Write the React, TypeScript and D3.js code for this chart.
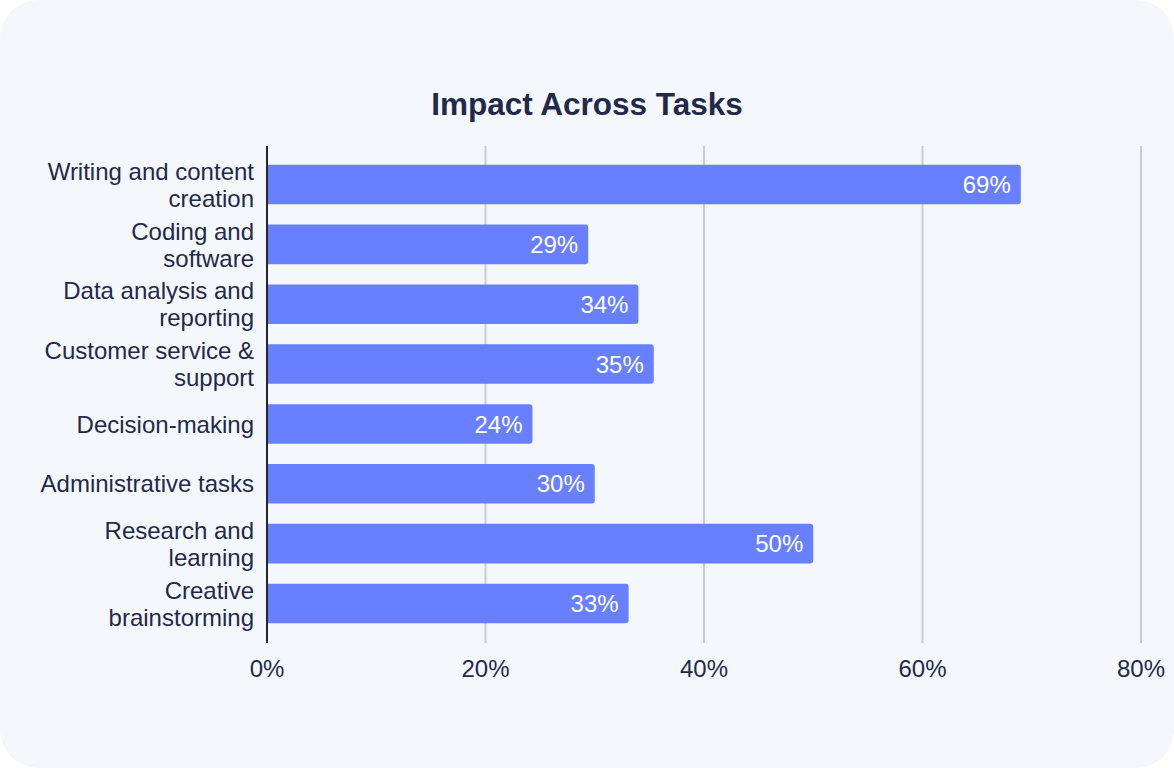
import React from 'react';
import { scaleBand, scaleLinear } from 'd3';

const W = 1174;
const H = 768;

const categories = [
  ['Writing and content', 'creation'],
  ['Coding and', 'software'],
  ['Data analysis and', 'reporting'],
  ['Customer service &', 'support'],
  ['Decision-making'],
  ['Administrative tasks'],
  ['Research and', 'learning'],
  ['Creative', 'brainstorming'],
];
const values = [69, 29.4, 34, 35.4, 24.3, 30, 50, 33.1];
const ticks = [0, 20, 40, 60, 80];

const font = '"Liberation Sans", Arial, sans-serif';
const textColor = '#1f2a4c';
const barColor = '#6880ff';

const App = () => {
  const x = scaleLinear().domain([0, 80]).range([267, 1141]);
  const y = scaleBand<number>()
    .domain(values.map((_, i) => i))
    .range([154.6, 633.4])
    .paddingInner(0.34)
    .paddingOuter(0.17);
  const gridTop = 146;
  const gridBottom = 643;

  return (
    <svg width={W} height={H} style={{ position: 'absolute', left: 0, top: 0, fontFamily: font }}>
      <rect x={0} y={0} width={W} height={H} fill="#ffffff" />
      <rect x={0} y={0} width={W} height={H} rx={38} ry={38} fill="#f4f7fb" />
      <text x={587} y={115} textAnchor="middle" fontSize={31.5} fontWeight="bold" fill={textColor}>
        Impact Across Tasks
      </text>
      {/* grid */}
      {ticks.slice(1).map(t => (
        <line key={t} x1={x(t)} x2={x(t)} y1={gridTop} y2={gridBottom} stroke="#c9cdd3" strokeWidth={2} />
      ))}
      {/* bars */}
      {values.map((v, i) => {
        const y0 = y(i)!;
        const bh = y.bandwidth();
        const x0 = x(0);
        const x1 = x(v);
        const r = 3;
        const d = `M${x0},${y0}H${x1 - r}Q${x1},${y0} ${x1},${y0 + r}V${y0 + bh - r}Q${x1},${y0 + bh} ${x1 - r},${y0 + bh}H${x0}Z`;
        return (
          <g key={i}>
            <path d={d} fill={barColor} />
            <text x={x1 - 10} y={y0 + bh / 2} dy="0.36em" textAnchor="end" fontSize={24} fill="#ffffff">
              {Math.round(v)}%
            </text>
          </g>
        );
      })}
      <line x1={x(0)} x2={x(0)} y1={gridTop} y2={gridBottom} stroke="#222633" strokeWidth={2} />
      {/* y labels */}
      {categories.map((lines, i) => {
        const cy = y(i)! + y.bandwidth() / 2;
        const lh = 27;
        const start = cy - ((lines.length - 1) * lh) / 2;
        return (
          <text key={i} x={254} textAnchor="end" fontSize={24} fill={textColor}>
            {lines.map((l, j) => (
              <tspan key={j} x={254} y={start + j * lh} dy="0.36em">{l}</tspan>
            ))}
          </text>
        );
      })}
      {/* x ticks */}
      {ticks.map(t => (
        <text key={t} x={x(t)} y={668} dy="0.36em" textAnchor="middle" fontSize={24} fill={textColor}>
          {t}%
        </text>
      ))}
    </svg>
  );
};

export default App;
